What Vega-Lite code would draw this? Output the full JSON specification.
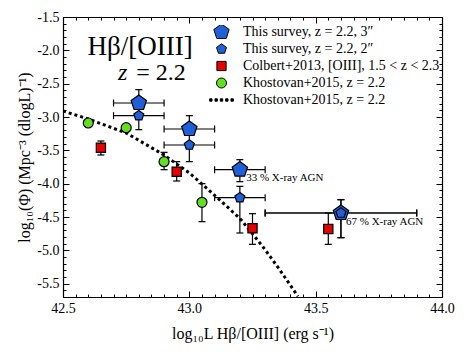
{
  "$schema": "https://vega.github.io/schema/vega-lite/v6.json",
  "width": 379,
  "height": 280,
  "autosize": {"type": "none"},
  "padding": {"left": 63, "top": 17, "right": 27, "bottom": 55},
  "background": "white",
  "config": {
    "view": {"stroke": null},
    "font": "Liberation Serif",
    "axis": {"grid": false, "domainColor": "black", "domainWidth": 1.2, "tickColor": "black", "tickWidth": 1, "labelColor": "black", "titleColor": "black", "labelFont": "Liberation Serif", "titleFont": "Liberation Serif", "titleFontWeight": "normal", "labelFontSize": 14, "titleFontSize": 16}
  },
  "datasets": {
    "pts": [
      {"s": "C13", "x": 42.65, "y": -3.46, "ylo": -3.57, "yhi": -3.36},
      {"s": "C13", "x": 42.95, "y": -3.82, "ylo": -3.96, "yhi": -3.67},
      {"s": "C13", "x": 43.25, "y": -4.67, "ylo": -4.91, "yhi": -4.45},
      {"s": "C13", "x": 43.55, "y": -4.68, "ylo": -4.91, "yhi": -4.44},
      {"s": "K15", "x": 42.6, "y": -3.09},
      {"s": "K15", "x": 42.75, "y": -3.16},
      {"s": "K15", "x": 42.9, "y": -3.67, "ylo": -3.79, "yhi": -3.53},
      {"s": "K15", "x": 43.05, "y": -4.28, "ylo": -4.57, "yhi": -4.0},
      {"s": "S3", "x": 42.8, "y": -2.79, "xlo": 42.7, "xhi": 42.9, "ylo": -2.83, "yhi": -2.59},
      {"s": "S3", "x": 43.0, "y": -3.18, "xlo": 42.9, "xhi": 43.1, "ylo": -3.22, "yhi": -2.98},
      {"s": "S3", "x": 43.2, "y": -3.79, "xlo": 43.1, "xhi": 43.3, "ylo": -3.97, "yhi": -3.64},
      {"s": "S3", "x": 43.6, "y": -4.44, "xlo": 43.3, "xhi": 43.9, "ylo": -4.81, "yhi": -4.24},
      {"s": "S2", "x": 42.8, "y": -2.98, "xlo": 42.7, "xhi": 42.9, "ylo": -3.19, "yhi": -2.82},
      {"s": "S2", "x": 43.0, "y": -3.42, "xlo": 42.9, "xhi": 43.1, "ylo": -3.67, "yhi": -3.2},
      {"s": "S2", "x": 43.2, "y": -4.21, "xlo": 43.1, "xhi": 43.3, "ylo": -4.74, "yhi": -4.04},
      {"s": "S2", "x": 43.6, "y": -4.44, "xlo": 43.3, "xhi": 43.9, "ylo": -4.81, "yhi": -4.24}
    ],
    "fit": [
      {"x": 42.5, "y": -2.91},
      {"x": 42.6, "y": -3.03},
      {"x": 42.75, "y": -3.24},
      {"x": 42.9, "y": -3.57},
      {"x": 43.0, "y": -3.84},
      {"x": 43.055, "y": -4.02},
      {"x": 43.2, "y": -4.52},
      {"x": 43.29, "y": -4.94},
      {"x": 43.35, "y": -5.25},
      {"x": 43.43, "y": -5.69}
    ],
    "notes": [
      {"x": 43.225, "y": -3.91, "t": "33 % X-ray AGN"},
      {"x": 43.62, "y": -4.57, "t": "67 % X-ray AGN"}
    ]
  },
  "resolve": {"axis": {"x": "independent", "y": "independent"}},
  "layer": [
    {
      "data": {"name": "fit"},
      "mark": {"type": "line", "color": "black", "strokeWidth": 3, "strokeDash": [3, 3], "clip": true},
      "encoding": {
        "x": {"field": "x", "type": "quantitative", "scale": {"domain": [42.5, 44.0], "nice": false, "zero": false},
          "axis": {"orient": "bottom", "title": "log₁₀L Hβ/[OIII] (erg s⁻¹)", "values": [42.5,42.55,42.6,42.65,42.7,42.75,42.8,42.85,42.9,42.95,43.0,43.05,43.1,43.15,43.2,43.25,43.3,43.35,43.4,43.45,43.5,43.55,43.6,43.65,43.7,43.75,43.8,43.85,43.9,43.95,44.0],
            "labelExpr": "abs(datum.value*2 - round(datum.value*2)) < 0.001 ? format(datum.value, '.1f') : ''",
            "tickSize": {"condition": {"test": "abs(datum.value*2 - round(datum.value*2)) < 0.001", "value": -6}, "value": -3},
            "labelPadding": 10, "titlePadding": 10, "labelFlush": false}},
        "y": {"field": "y", "type": "quantitative", "scale": {"domain": [-5.7, -1.5], "nice": false, "zero": false},
          "axis": {"orient": "left", "title": "log₁₀(Φ) (Mpc⁻³ (dlogL)⁻¹)", "values": [-5.7,-5.6,-5.5,-5.4,-5.3,-5.2,-5.1,-5.0,-4.9,-4.8,-4.7,-4.6,-4.5,-4.4,-4.3,-4.2,-4.1,-4.0,-3.9,-3.8,-3.7,-3.6,-3.5,-3.4,-3.3,-3.2,-3.1,-3.0,-2.9,-2.8,-2.7,-2.6,-2.5,-2.4,-2.3,-2.2,-2.1,-2.0,-1.9,-1.8,-1.7,-1.6,-1.5],
            "labelExpr": "abs(datum.value*2 - round(datum.value*2)) < 0.001 ? replace(format(datum.value, '.1f'), '−', '-') : ''",
            "tickSize": {"condition": {"test": "abs(datum.value*2 - round(datum.value*2)) < 0.001", "value": -6}, "value": -3},
            "labelPadding": 10, "titlePadding": 4, "labelFlush": false}}
      }
    },
    {
      "data": {"name": "pts"},
      "transform": [{"filter": "isValid(datum.ylo)"}],
      "mark": {"type": "rule", "color": "black", "strokeWidth": 1.2},
      "encoding": {
        "x": {"field": "x", "type": "quantitative", "axis": null},
        "y": {"field": "ylo", "type": "quantitative", "axis": null},
        "y2": {"field": "yhi"}
      }
    },
    {
      "data": {"name": "pts"},
      "transform": [{"filter": "isValid(datum.ylo)"}, {"fold": ["ylo", "yhi"], "as": ["k", "v"]}],
      "mark": {"type": "tick", "orient": "horizontal", "color": "black", "size": 7, "thickness": 1.2, "opacity": 1},
      "encoding": {
        "x": {"field": "x", "type": "quantitative", "axis": null},
        "y": {"field": "v", "type": "quantitative", "axis": null}
      }
    },
    {
      "data": {"name": "pts"},
      "transform": [{"filter": "isValid(datum.xlo)"}],
      "mark": {"type": "rule", "color": "black", "strokeWidth": 1.2},
      "encoding": {
        "x": {"field": "xlo", "type": "quantitative", "axis": null},
        "x2": {"field": "xhi"},
        "y": {"field": "y", "type": "quantitative", "axis": null}
      }
    },
    {
      "data": {"name": "pts"},
      "transform": [{"filter": "isValid(datum.xlo)"}, {"fold": ["xlo", "xhi"], "as": ["k", "v"]}],
      "mark": {"type": "tick", "orient": "vertical", "color": "black", "size": 7, "thickness": 1.2, "opacity": 1},
      "encoding": {
        "x": {"field": "v", "type": "quantitative", "axis": null},
        "y": {"field": "y", "type": "quantitative", "axis": null}
      }
    },
    {
      "data": {"name": "pts"},
      "mark": {"type": "point", "filled": true, "stroke": "black", "strokeWidth": 1.2, "opacity": 1},
      "encoding": {
        "x": {"field": "x", "type": "quantitative", "axis": null},
        "y": {"field": "y", "type": "quantitative", "axis": null},
        "fill": {"field": "s", "type": "nominal",
          "scale": {"domain": ["S3", "S2", "C13", "K15", "K15fit"], "range": ["#1f5fd8", "#1f5fd8", "#e60000", "#62e01f", "black"]},
          "legend": {"orient": "none", "legendX": 146, "legendY": 8, "title": null,
            "labelExpr": "datum.label == 'S3' ? 'This survey, z = 2.2, 3″' : datum.label == 'S2' ? 'This survey, z = 2.2, 2″' : datum.label == 'C13' ? 'Colbert+2013, [OIII], 1.5 < z < 2.3' : 'Khostovan+2015, z = 2.2'",
            "labelFont": "Liberation Serif", "labelFontSize": 14, "labelLimit": 400, "labelColor": "black", "symbolStrokeColor": "black", "symbolStrokeWidth": 1, "rowPadding": 3, "clipHeight": 14, "labelOffset": 9, "symbolOpacity": 1}},
        "shape": {"field": "s", "type": "nominal",
          "scale": {"domain": ["S3", "S2", "C13", "K15", "K15fit"], "range": ["M0,-1L0.951,-0.309L0.588,0.809L-0.588,0.809L-0.951,-0.309Z", "M0,-1L0.951,-0.309L0.588,0.809L-0.588,0.809L-0.951,-0.309Z", "square", "circle", "M-1,-0.1h0.2v0.2h-0.2zM-0.55,-0.1h0.2v0.2h-0.2zM-0.1,-0.1h0.2v0.2h-0.2zM0.35,-0.1h0.2v0.2h-0.2zM0.8,-0.1h0.2v0.2h-0.2z"]}},
        "size": {"field": "s", "type": "nominal",
          "scale": {"type": "ordinal", "domain": ["S3", "S2", "C13", "K15", "K15fit"], "range": [260, 110, 85, 100, 560]}}
      }
    },
    {
      "data": {"name": "notes"},
      "mark": {"type": "text", "align": "left", "baseline": "middle", "fontSize": 11, "font": "Liberation Serif", "color": "black"},
      "encoding": {
        "x": {"field": "x", "type": "quantitative",
          "axis": {"orient": "top", "title": null, "labels": false, "domainColor": "black", "values": [42.5,42.55,42.6,42.65,42.7,42.75,42.8,42.85,42.9,42.95,43.0,43.05,43.1,43.15,43.2,43.25,43.3,43.35,43.4,43.45,43.5,43.55,43.6,43.65,43.7,43.75,43.8,43.85,43.9,43.95,44.0],
            "tickSize": {"condition": {"test": "abs(datum.value*2 - round(datum.value*2)) < 0.001", "value": -6}, "value": -3}}},
        "y": {"field": "y", "type": "quantitative",
          "axis": {"orient": "right", "title": null, "labels": false, "values": [-5.7,-5.6,-5.5,-5.4,-5.3,-5.2,-5.1,-5.0,-4.9,-4.8,-4.7,-4.6,-4.5,-4.4,-4.3,-4.2,-4.1,-4.0,-3.9,-3.8,-3.7,-3.6,-3.5,-3.4,-3.3,-3.2,-3.1,-3.0,-2.9,-2.8,-2.7,-2.6,-2.5,-2.4,-2.3,-2.2,-2.1,-2.0,-1.9,-1.8,-1.7,-1.6,-1.5],
            "tickSize": {"condition": {"test": "abs(datum.value*2 - round(datum.value*2)) < 0.001", "value": -6}, "value": -3}}},
        "text": {"field": "t"}
      }
    },
    {
      "data": {"values": [{"x": 42.805, "y": -2.07, "t": "Hβ/[OIII]"}]},
      "mark": {"type": "text", "align": "center", "baseline": "alphabetic", "fontSize": 27, "font": "Liberation Serif", "color": "black"},
      "encoding": {
        "x": {"field": "x", "type": "quantitative", "axis": null},
        "y": {"field": "y", "type": "quantitative", "axis": null},
        "text": {"field": "t"}
      }
    },
    {
      "data": {"values": [{"x": 42.718, "y": -2.44, "t": "z"}]},
      "mark": {"type": "text", "align": "left", "baseline": "alphabetic", "fontSize": 24, "fontStyle": "italic", "font": "Liberation Serif", "color": "black"},
      "encoding": {
        "x": {"field": "x", "type": "quantitative", "axis": null},
        "y": {"field": "y", "type": "quantitative", "axis": null},
        "text": {"field": "t"}
      }
    },
    {
      "data": {"values": [{"x": 42.79, "y": -2.44, "t": "= 2.2"}]},
      "mark": {"type": "text", "align": "left", "baseline": "alphabetic", "fontSize": 24, "font": "Liberation Serif", "color": "black"},
      "encoding": {
        "x": {"field": "x", "type": "quantitative", "axis": null},
        "y": {"field": "y", "type": "quantitative", "axis": null},
        "text": {"field": "t"}
      }
    }
  ]
}
